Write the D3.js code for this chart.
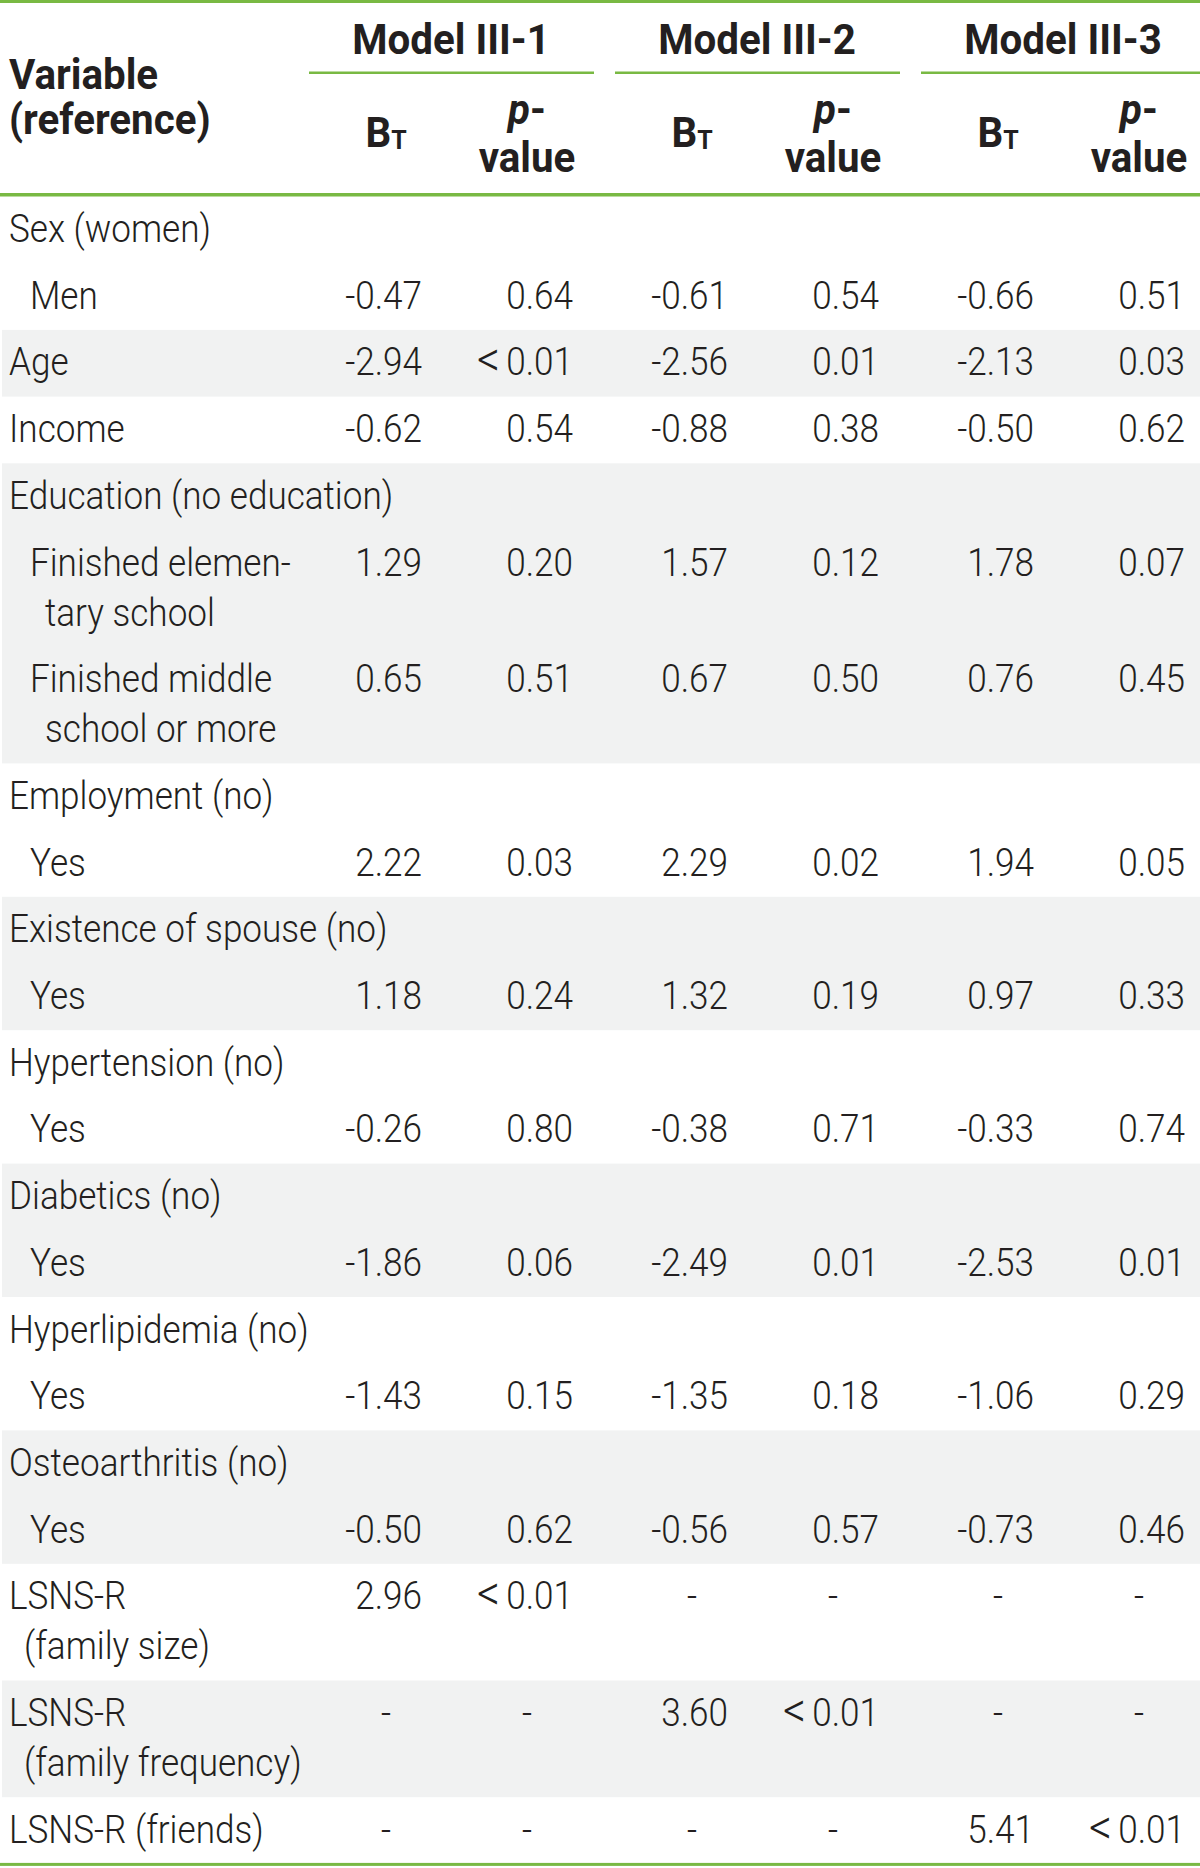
<!DOCTYPE html>
<html>
<head>
<meta charset="utf-8">
<script src="https://cdn.jsdelivr.net/npm/d3@7"></script>
<style>
  html, body { margin: 0; padding: 0; background: #fff; }
  svg { display: block; }
  text { font-family: Roboto, "Noto Sans", sans-serif; fill: #231f20; }
</style>
</head>
<body>
<script>
// ---------------- data ----------------
const models = ["Model III-1", "Model III-2", "Model III-3"];

const labels = [
  ["Sex (women)"], ["Men"], ["Age"], ["Income"],
  ["Education (no education)"], ["Finished elemen-", "tary school"], ["Finished middle", "school or more"],
  ["Employment (no)"], ["Yes"],
  ["Existence of spouse (no)"], ["Yes"],
  ["Hypertension (no)"], ["Yes"],
  ["Diabetics (no)"], ["Yes"],
  ["Hyperlipidemia (no)"], ["Yes"],
  ["Osteoarthritis (no)"], ["Yes"],
  ["LSNS-R", "(family size)"], ["LSNS-R", "(family frequency)"], ["LSNS-R (friends)"]
];
const levels = [0,1,0,0,0,1,1,0,1,0,1,0,1,0,1,0,1,0,1,0,0,0];
const groups = [0,0,1,2,3,3,3,4,4,5,5,6,6,7,7,8,8,9,9,10,11,12];

// "" = blank cell, null = "-"
const B1 = ["", -0.47, -2.94, -0.62, "", 1.29, 0.65, "", 2.22, "", 1.18, "", -0.26, "", -1.86, "", -1.43, "", -0.50, 2.96, null, null];
const P1 = ["", 0.64, "<0.01", 0.54, "", 0.20, 0.51, "", 0.03, "", 0.24, "", 0.80, "", 0.06, "", 0.15, "", 0.62, "<0.01", null, null];
const B2 = ["", -0.61, -2.56, -0.88, "", 1.57, 0.67, "", 2.29, "", 1.32, "", -0.38, "", -2.49, "", -1.35, "", -0.56, null, 3.60, null];
const P2 = ["", 0.54, 0.01, 0.38, "", 0.12, 0.50, "", 0.02, "", 0.19, "", 0.71, "", 0.01, "", 0.18, "", 0.57, null, "<0.01", null];
const B3 = ["", -0.66, -2.13, -0.50, "", 1.78, 0.76, "", 1.94, "", 0.97, "", -0.33, "", -2.53, "", -1.06, "", -0.73, null, null, 5.41];
const P3 = ["", 0.51, 0.03, 0.62, "", 0.07, 0.45, "", 0.05, "", 0.33, "", 0.74, "", 0.01, "", 0.29, "", 0.46, null, null, "<0.01"];

const Bcols = [B1, B2, B3];
const Pcols = [P1, P2, P3];

// ---------------- layout ----------------
const W = 1200, H = 1868;
const green = "#79b943";
const shade = "#f1f2f2";
const bodyTop = 196.5, unitH = 66.7, extraLine = 50, baseOff = 45.5;
const bodySize = 39, bodySX = 0.9;
const hdrSize = 42, hdrSX = 0.96;

const svg = d3.select("body").append("svg").attr("width", W).attr("height", H);

const xModel = d3.scaleBand().domain(models).range([309, 309 + 3 * 306]).paddingInner(0);

// row positions
const rowHeights = labels.map(l => unitH + extraLine * (l.length - 1));
const rowTops = [];
rowHeights.reduce((acc, h, i) => { rowTops[i] = acc; return acc + h; }, bodyTop);
const bodyBottom = rowTops[rowTops.length - 1] + rowHeights[rowHeights.length - 1];

const fmt = d3.formatLocale({decimal: ".", thousands: ",", grouping: [3], currency: ["", ""], minus: "-"}).format(".2f");
const cellText = v => v === null ? "-" : (typeof v === "number" ? fmt(v) : v);

// helper: condensed text
function txt(g, x, y, anchor, sx) {
  return g.append("text")
    .attr("transform", `translate(${x},${y}) scale(${sx},1)`)
    .attr("text-anchor", anchor);
}

// shading by group
const groupIds = Array.from(new Set(groups));
groupIds.forEach(g => {
  if (g % 2 === 1) {
    const idx = groups.map((d, i) => d === g ? i : -1).filter(i => i >= 0);
    const y0 = rowTops[idx[0]];
    const y1 = rowTops[idx[idx.length - 1]] + rowHeights[idx[idx.length - 1]];
    svg.append("rect").attr("x", 2).attr("y", y0).attr("width", W - 2).attr("height", y1 - y0).attr("fill", shade);
  }
});

// rules
svg.append("rect").attr("x", 0).attr("y", 0).attr("width", W).attr("height", 3).attr("fill", green);
svg.append("rect").attr("x", 0).attr("y", 193).attr("width", W).attr("height", 3.5).attr("fill", green);
svg.append("rect").attr("x", 0).attr("y", bodyBottom - 1).attr("width", W).attr("height", 3).attr("fill", green);
models.forEach(m => {
  const x0 = xModel(m);
  svg.append("rect").attr("x", x0).attr("y", 71.5).attr("width", Math.min(285, W - x0)).attr("height", 2.5).attr("fill", green);
});

// header text
const hdr = svg.append("g").attr("font-weight", 700).attr("font-size", hdrSize);
txt(hdr, 9, 89, "start", hdrSX).text("Variable");
txt(hdr, 9, 134, "start", hdrSX).text("(reference)");
models.forEach(m => {
  const x0 = xModel(m);
  txt(hdr, x0 + 142, 54, "middle", hdrSX).text(m);
  const bt = txt(hdr, x0 + 77, 147, "middle", hdrSX);
  bt.append("tspan").text("B");
  bt.append("tspan").attr("font-size", 26).attr("dy", 2).text("T");
  const p = txt(hdr, x0 + 218, 124, "middle", hdrSX);
  p.append("tspan").attr("font-style", "italic").text("p");
  p.append("tspan").text("-");
  txt(hdr, x0 + 218, 172, "middle", hdrSX).text("value");
});

// body text
const body = svg.append("g").attr("font-size", bodySize).attr("font-weight", 300);
function valueText(x, y, v) {
  const t = txt(body, x, y, "end", bodySX);
  const s = cellText(v);
  if (s.startsWith("<")) {
    t.append("tspan").attr("font-size", 50).attr("dy", 1).text("<");
    t.append("tspan").attr("dx", 7).attr("dy", -1).text(s.slice(1));
  } else {
    t.text(s);
  }
}
labels.forEach((lines, i) => {
  const baseX = levels[i] === 1 ? 30 : 9;
  lines.forEach((ln, j) => {
    txt(body, baseX + (j > 0 ? 15 : 0), rowTops[i] + baseOff + j * extraLine, "start", bodySX).text(ln);
  });
  models.forEach((m, k) => {
    const x0 = xModel(m);
    const yb = rowTops[i] + baseOff;
    const bv = Bcols[k][i], pv = Pcols[k][i];
    if (bv !== "") {
      if (bv === null) txt(body, x0 + 77, yb, "middle", bodySX).text("-");
      else valueText(x0 + 113, yb, bv);
    }
    if (pv !== "") {
      if (pv === null) txt(body, x0 + 218, yb, "middle", bodySX).text("-");
      else valueText(x0 + 264, yb, pv);
    }
  });
});
</script>
</body>
</html>
